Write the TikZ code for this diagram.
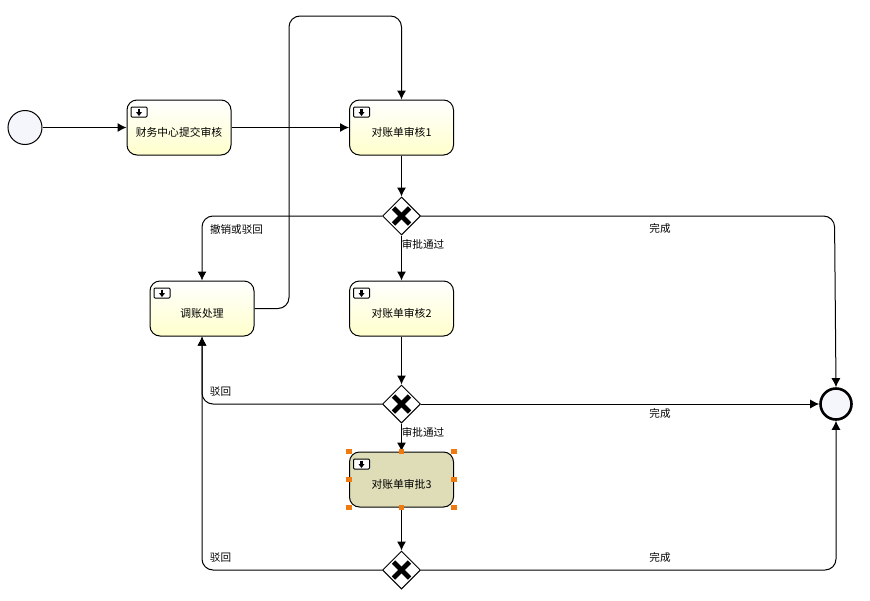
\documentclass[tikz,border=0pt]{standalone}
\usepackage{fontspec}
\setmainfont{Noto Sans CJK SC}
\usetikzlibrary{positioning, arrows.meta, shapes.geometric, calc}
\definecolor{taskbase}{HTML}{FFFFCC}
\definecolor{taskpick}{HTML}{DFDDB7}
\definecolor{evfill}{HTML}{F4F6FB}
\definecolor{gripcol}{HTML}{EE7A10}
\tikzset{
  every path/.append style={line width=1pt},
  task/.style={draw, rounded corners=10pt, minimum width=104pt, minimum height=55pt, top color=white, bottom color=taskbase, font=\fontsize{10.8}{12}\selectfont, inner sep=0pt, text height=18pt, text depth=0pt},
  taskon/.style={task, top color=taskpick, bottom color=taskpick},
  gate/.style={draw, diamond, minimum width=38pt, minimum height=38pt, inner sep=0pt, fill=white},
  startev/.style={draw, circle, minimum size=34pt, inner sep=0pt, fill=evfill},
  endev/.style={draw, circle, line width=2.6pt, minimum size=31pt, inner sep=0pt, fill=evfill},
  flow/.style={-{Latex[length=9pt, width=9pt]}, rounded corners=11pt},
  lab/.style={font=\fontsize{10.6}{12}\selectfont, inner sep=0pt},
  grip/.style={fill=gripcol, minimum size=5.5pt, inner sep=0pt}
}
\begin{document}
\begin{tikzpicture}[x=1pt, y=-1pt]
  \useasboundingbox (0,0) rectangle (870,600);
  \node[startev] (start) at (25,127.5) {};
  \node[task] (submit) at (179,127.5) {财务中心提交审核};
  \node[task] (check1) at (401.5,127.5) {对账单审核1};
  \node[task] (adjust) at (202,308.5) {调账处理};
  \node[task] (check2) at (401.5,308.5) {对账单审核2};
  \node[taskon] (check3) at (401.5,479.5) {对账单审批3};
  \node[gate] (gate1) at (401.5,216) {};
  \node[gate] (gate2) at (401.5,404) {};
  \node[gate] (gate3) at (401.5,570) {};
  \node[endev] (finish) at (836,404) {};
  % crosses in the gateways
  \foreach \g in {gate1,gate2,gate3} {
    \draw[line width=4.8pt] ($(\g)+(-8,-8)$) -- ($(\g)+(8,8)$);
    \draw[line width=4.8pt] ($(\g)+(-8,8)$) -- ($(\g)+(8,-8)$);
  }
  % small marker in the task corner
  \foreach \t in {submit,check1,adjust,check2,check3} {
    \node[draw, fill=white, rounded corners=1pt, minimum width=16pt, minimum height=10pt, inner sep=0pt] (\t icon) at ($(\t.north west)+(12.5,12.5)$) {};
    \draw[line width=2.2pt] ($(\t icon)+(0,-3.5)$) -- ($(\t icon)+(0,0)$);
    \fill ($(\t icon)+(-3,0)$) -- ($(\t icon)+(3,0)$) -- ($(\t icon)+(0,4)$) -- cycle;
  }
  % bend points
  \coordinate (upa) at (289,308.5);
  \coordinate (upb) at (289,16);
  \coordinate (upc) at (401.5,16);
  \coordinate (lefta) at (202,216);
  \coordinate (leftb) at (202,404);
  \coordinate (leftc) at (202,570);
  \coordinate (righta) at (834.5,216);
  \coordinate (rightc) at (836,570);
  % flows
  \draw[flow] (start) -- (submit);
  \draw[flow] (submit) -- (check1);
  \draw[flow] (check1) -- (gate1);
  \draw[flow] (gate1) -- (check2);
  \draw[flow] (check2) -- (gate2);
  \draw[flow] (gate2) -- (check3);
  \draw[flow] (check3) -- (gate3);
  \draw[flow] (adjust.east) -- (upa) -- (upb) -- (upc) -- (check1.north);
  \draw[flow] (gate1.west) -- (lefta) -- (adjust.north);
  \draw[flow] (gate2.west) -- (leftb) -- (adjust.south);
  \draw[flow] (gate3.west) -- (leftc) -- (adjust.south);
  \draw[flow] (gate1.east) -- (righta) -- (finish.north);
  \draw[flow] (gate2.east) -- (finish.west);
  \draw[flow] (gate3.east) -- (rightc) -- (finish.south);
  % flow labels
  \node[lab] (back1) at (236.5,229) {撤销或驳回};
  \node[lab] (pass1) at (423,244.5) {审批通过};
  \node[lab] (done1) at (660,228.5) {完成};
  \node[lab] (back2) at (220.5,392) {驳回};
  \node[lab] (pass2) at (423,432.5) {审批通过};
  \node[lab] (done2) at (660,413.5) {完成};
  \node[lab] (back3) at (220.5,557.5) {驳回};
  \node[lab] (done3) at (660,557.5) {完成};
  % selection handles
  \foreach \a in {north west,north,north east,west,east,south west,south,south east} {
    \node[grip] at (check3.\a) {};
  }
\end{tikzpicture}
\end{document}
